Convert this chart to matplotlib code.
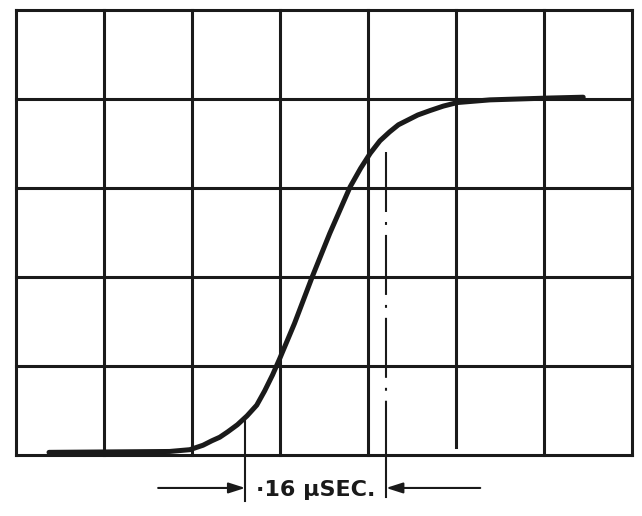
import numpy as np
import matplotlib
matplotlib.use("Agg")
import matplotlib.pyplot as plt

# grid of 7 x 5 divisions
N_COLS = 7
N_ROWS = 5

# step response (x, y in divisions)
curve_x = [0.38, 1.75, 1.98, 2.13, 2.23, 2.32, 2.41, 2.52, 2.63, 2.74, 2.83,
           2.92, 3.00, 3.17, 3.37, 3.57, 3.80, 3.92, 4.03, 4.14, 4.25, 4.35,
           4.45, 4.57, 4.71, 4.86, 5.02, 5.39, 6.04, 6.45]
curve_y = [0.03, 0.04, 0.06, 0.11, 0.16, 0.20, 0.26, 0.34, 0.44, 0.56, 0.72,
           0.90, 1.08, 1.48, 2.00, 2.49, 3.01, 3.22, 3.39, 3.53, 3.63, 3.71,
           3.76, 3.82, 3.87, 3.92, 3.96, 3.99, 4.01, 4.02]

# rise time markers (in divisions)
marker_start = 2.61
marker_start_level = 0.42
marker_end = 4.21
marker_end_level = 3.40
rise_label = "\u00b716 \u03bcSEC."

INK = "#1a1a1a"


def draw_grid(ax):
    for j in range(N_ROWS + 1):
        ax.plot([0, N_COLS], [j, j], color=INK, lw=2.2, solid_capstyle="projecting")
    for i in range(N_COLS + 1):
        bottom = 0.09 if i == 5 else 0
        ax.plot([i, i], [bottom, N_ROWS], color=INK, lw=2.2, solid_capstyle="projecting")


def draw_markers(ax):
    arrow_y = -0.37
    tail = -0.52
    # left marker: solid from the curve down
    ax.plot([marker_start, marker_start], [marker_start_level, tail], color=INK, lw=1.5)
    # right marker: dash-dot over the grid, solid below it
    ax.plot([marker_end, marker_end], [marker_end_level, 0], color=INK, lw=1.5,
            linestyle=(0, (28.8, 4.8, 1.4, 4.8)))
    ax.plot([marker_end, marker_end], [0, tail + 0.05], color=INK, lw=1.5)

    arrow = dict(arrowstyle="-|>,head_length=1.0,head_width=0.32", color=INK, lw=1.5,
                 shrinkA=0, shrinkB=0)
    ax.annotate("", xy=(marker_start, arrow_y), xytext=(1.62, arrow_y), arrowprops=arrow)
    ax.annotate("", xy=(marker_end, arrow_y), xytext=(5.28, arrow_y), arrowprops=arrow)
    ax.text((marker_start + marker_end) / 2, arrow_y - 0.02, rise_label, ha="center", va="center",
            fontsize=16, fontweight="bold", color=INK)


fig = plt.figure(figsize=(6.42, 5.16), dpi=100)
ax = fig.add_axes([0, 0, 1, 1])
ax.set_xlim(-0.177, 7.118)
ax.set_ylim(-0.685, 5.112)
ax.axis("off")

draw_grid(ax)
ax.plot(curve_x, curve_y, color=INK, lw=3.6, solid_capstyle="round", solid_joinstyle="round")
draw_markers(ax)

fig.savefig("out.png", dpi=100, facecolor="white")
